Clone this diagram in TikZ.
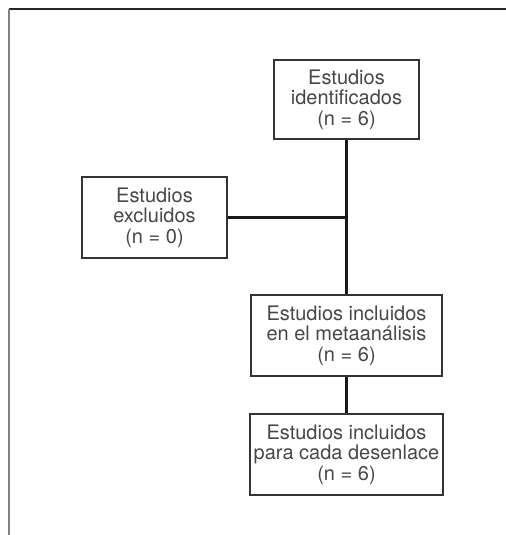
\documentclass[tikz,border=0pt]{standalone}
\usepackage{fontspec}
\setmainfont{TeX Gyre Heros}
\usepackage{xcolor}
\colorlet{txtcol}{black!72}
\tikzstyle{caja}=[draw=black!80,line width=0.6pt,text=txtcol,align=center,
                  inner sep=0pt,font=\fontsize{10}{10.3}\selectfont]
\tikzstyle{enlace}=[line width=1.2pt,black!90]
\tikzset{>=latex}

\begin{document}
\begin{tikzpicture}[x=1pt,y=1pt,
                    C/.style args = {#1/#2}{caja,
                              minimum width=#1pt,
                              minimum height=#2pt}
               ]
               \useasboundingbox (0,0) rectangle (253,267.5);
               % marco
               \draw[black!85, line width=0.8pt] (4.5,263) -- (253,263);
               \draw[black!50, line width=0.8pt] (4.5,263) -- (4.5,0);

               \def\X{173.25} % eje de la columna principal
               \node[C=72.5/39.5] (ident) at (\X,217.75)
                    {Estudios\\identificados\\(n = 6)};
               \node[C=72.5/40.5] (excl) at (77.25,158.75)
                    {Estudios\\excluidos\\(n = 0)};
               \node[C=95.5/40.5] (incl) at (\X,99.75)
                    {Estudios incluidos\\en el metaanálisis\\(n = 6)};
               \node[C=96.5/40.5] (desen) at (\X,40.25)
                    {Estudios incluidos\\para cada desenlace\\(n = 6)};

               \draw[enlace] (ident) -- (incl);
               \draw[enlace] (excl.east) -- (excl.east -| ident) coordinate (cruce);
               \draw[enlace] (incl) -- (desen);
          \end{tikzpicture}
\end{document}
